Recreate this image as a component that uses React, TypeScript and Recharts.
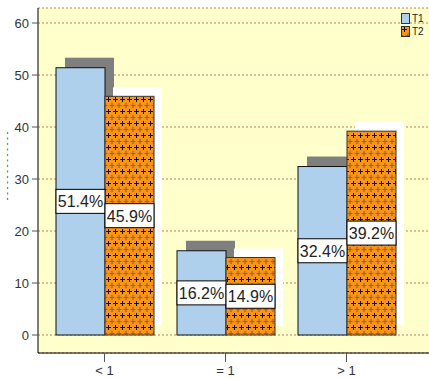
import React from "react";
import { BarChart, Bar, XAxis, YAxis, CartesianGrid, LabelList } from "recharts";

const categories = ["< 1", "= 1", "> 1"];
const t1Values = [51.4, 16.2, 32.4];
const t2Values = [45.9, 14.9, 39.2];
const yTicks = [0, 10, 20, 30, 40, 50, 60];

const data = categories.map((name, i) => ({ name, t1: t1Values[i], t2: t2Values[i] }));

const FONT = "'Liberation Sans', Arial, sans-serif";

const makeShape = (fill: string, shadow: string, dx: number, dy: number, stroke: string) => (props: any) => {
  const { x, y, width, height } = props;
  return (
    <g>
      <rect x={x + dx} y={y + dy} width={width} height={height} fill={shadow} />
      <rect x={x} y={y} width={width} height={height} fill={fill} stroke={stroke} strokeWidth={1} />
    </g>
  );
};

const PctLabel = (props: any) => {
  const { x, y, width, height, value } = props;
  const cy = Number(y) + Number(height) / 2;
  return (
    <g>
      <rect x={x} y={cy - 12} width={width} height={24} fill="#fff" stroke="#000" strokeWidth={1} />
      <text x={Number(x) + Number(width) / 2} y={cy + 6} textAnchor="middle" fontSize={16} fill="#222" fontFamily={FONT}>
        {Number(value).toFixed(1)}%
      </text>
    </g>
  );
};

// staggered plus signs: sharp row, then a softer offset row
const PlusPattern = ({ id }: { id: string }) => (
  <pattern id={id} width={7} height={12} patternUnits="userSpaceOnUse">
    <rect width={7} height={12} fill="#F7941D" />
    <path d="M3.5 1V6M1 3.5H6" stroke="#111" strokeWidth={1} />
    <path d="M0 7V12M-2.5 9.5H2.5M7 7V12M4.5 9.5H9.5" stroke="#6b3a00" strokeWidth={1.2} opacity={0.55} />
  </pattern>
);

const AxisDashes = () => (
  <text x={10} y={166} transform="rotate(-90 10 166)" textAnchor="middle" fontSize={9} fill="#333" fontFamily={FONT}>
    - - - - - - - - - - - - -
  </text>
);

export default function App() {
  return (
    <div style={{ position: "absolute", left: 0, top: 0, width: 429, height: 379 }}>
      <BarChart
        width={429}
        height={379}
        data={data}
        margin={{ top: 8, right: 0, bottom: 0, left: 0 }}
        barCategoryGap={12}
        barGap={0}
      >
        <defs>
          <PlusPattern id="plusFill" />
        </defs>
        <CartesianGrid vertical={false} fill="#FFFFCC" stroke="#C87868" strokeDasharray="2 2" />
        <XAxis
          dataKey="name"
          height={26}
          padding={{ left: 6, right: 22 }}
          axisLine={{ stroke: "#000" }}
          tickLine={{ stroke: "#555" }}
          tickSize={9}
          tickMargin={4}
          tick={{ fontSize: 13, fill: "#333", fontFamily: FONT }}
        />
        <YAxis
          width={38}
          domain={[0, 60]}
          ticks={yTicks}
          padding={{ top: 15, bottom: 18 }}
          axisLine={{ stroke: "#000" }}
          tickLine={{ stroke: "#555" }}
          tickSize={6}
          tickMargin={3}
          tick={{ fontSize: 13, fill: "#333", fontFamily: FONT }}
          label={<AxisDashes />}
        />
        <Bar dataKey="t1" isAnimationActive={false} shape={makeShape("#AFD0EC", "#7F7F7F", 9, -10, "#111")}>
          <LabelList dataKey="t1" content={PctLabel} />
        </Bar>
        <Bar dataKey="t2" isAnimationActive={false} shape={makeShape("url(#plusFill)", "#FFFFFF", 8, -9, "#333")}>
          <LabelList dataKey="t2" content={PctLabel} />
        </Bar>
      </BarChart>
      <div style={{ position: "absolute", left: 401, top: 12, fontFamily: FONT, fontSize: 10, color: "#222", lineHeight: "13px" }}>
        <div style={{ display: "flex", alignItems: "center" }}>
          <svg width={9} height={11} style={{ marginRight: 2 }}>
            <rect x={0.5} y={0.5} width={8} height={10} fill="#AFD0EC" stroke="#333" />
          </svg>
          T1
        </div>
        <div style={{ display: "flex", alignItems: "center" }}>
          <svg width={9} height={11} style={{ marginRight: 2 }}>
            <defs>
              <PlusPattern id="plusLegend" />
            </defs>
            <rect x={0.5} y={0.5} width={8} height={10} fill="url(#plusLegend)" stroke="#333" />
          </svg>
          T2
        </div>
      </div>
    </div>
  );
}
